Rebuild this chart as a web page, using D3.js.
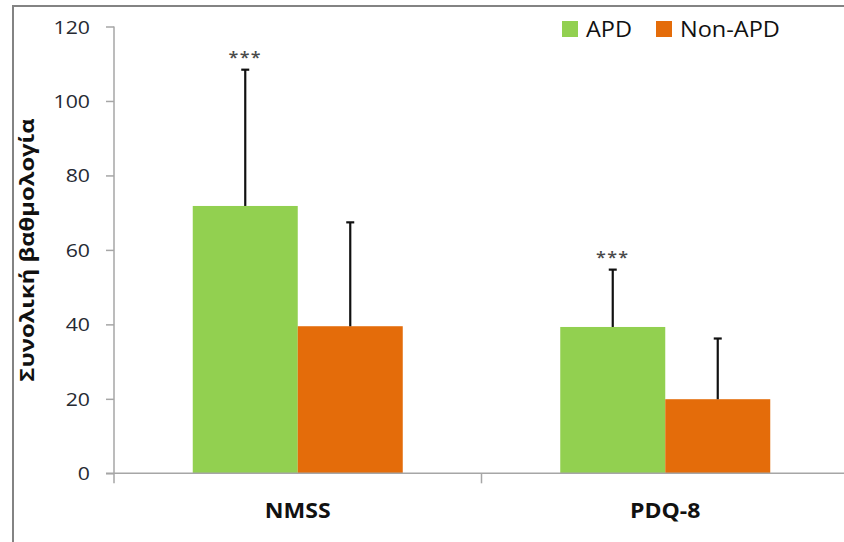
<!DOCTYPE html>
<html>
<head>
<meta charset="utf-8">
<script src="https://cdn.jsdelivr.net/npm/d3@7/dist/d3.min.js"></script>
<style>
  html, body { margin: 0; padding: 0; background: #fff; }
  svg { display: block; }
</style>
</head>
<body>
<svg id="chart" width="844" height="542"></svg>
<script>
// ---- data ----
const categories = ["NMSS", "PDQ-8"];
const seriesNames = ["APD", "Non-APD"];
const apdMeans = [71.8, 39.3];
const apdSD = [36.6, 15.4];
const nonApdMeans = [39.5, 19.9];
const nonApdSD = [27.9, 16.3];
const significance = ["***", "***"];
const yTicks = [0, 20, 40, 60, 80, 100, 120];
const yTitle = "Συνολική βαθμολογία";

const colors = { "APD": "#92D050", "Non-APD": "#E46C0A" };
const SX = 1.12; // horizontal stretch of the text in the reference

const rows = categories.map((c, i) => ({
  cat: c,
  sig: significance[i],
  vals: [
    { s: "APD", v: apdMeans[i], sd: apdSD[i] },
    { s: "Non-APD", v: nonApdMeans[i], sd: nonApdSD[i] }
  ]
}));

const svg = d3.select("#chart");
const font = "'Open Sans', sans-serif";

// frame (left and top border of the picture)
svg.append("line").attr("x1", 13).attr("x2", 13).attr("y1", 6).attr("y2", 542)
  .attr("stroke", "#838383").attr("stroke-width", 2);
svg.append("line").attr("x1", 12).attr("x2", 844).attr("y1", 6).attr("y2", 6)
  .attr("stroke", "#838383").attr("stroke-width", 2);

const plotLeft = 114, plotRight = 849, plotTop = 26.5, plotBottom = 473.3;

const y = d3.scaleLinear().domain([0, 120]).range([plotBottom, plotTop]);
const x0 = d3.scaleBand().domain(categories).range([plotLeft, plotRight]).padding(0);
const x1 = d3.scaleBand().domain(seriesNames).range([0, x0.bandwidth()])
  .paddingInner(0).paddingOuter(0.75);

// bars
const groups = svg.append("g").selectAll("g").data(rows).join("g")
  .attr("transform", d => `translate(${x0(d.cat)},0)`);

groups.selectAll("rect").data(d => d.vals).join("rect")
  .attr("x", d => x1(d.s))
  .attr("width", x1.bandwidth())
  .attr("y", d => y(d.v))
  .attr("height", d => y(0) - y(d.v))
  .attr("fill", d => colors[d.s]);

// error bars (upper only)
groups.each(function(d) {
  const g = d3.select(this);
  d.vals.forEach(v => {
    const cx = x1(v.s) + x1.bandwidth() / 2;
    g.append("line").attr("x1", cx).attr("x2", cx)
      .attr("y1", y(v.v)).attr("y2", y(v.v + v.sd))
      .attr("stroke", "#111").attr("stroke-width", 2.2);
    g.append("line").attr("x1", cx - 4).attr("x2", cx + 4)
      .attr("y1", y(v.v + v.sd)).attr("y2", y(v.v + v.sd))
      .attr("stroke", "#111").attr("stroke-width", 2.2);
  });
  const a = d.vals[0];
  const cx = x1(a.s) + x1.bandwidth() / 2;
  g.append("text")
    .attr("transform", `translate(${cx},${y(a.v + a.sd) - 7}) scale(${SX},1)`)
    .attr("text-anchor", "middle")
    .attr("font-family", font)
    .attr("font-size", 16)
    .attr("font-weight", 600)
    .attr("letter-spacing", 1.2)
    .attr("fill", "#4a4a4a")
    .text(d.sig);
});

// y axis
const yAxis = svg.append("g")
  .attr("transform", `translate(${plotLeft},0)`)
  .call(d3.axisLeft(y).tickValues(yTicks).tickSizeInner(8).tickSizeOuter(0).tickFormat(d3.format("d")));
yAxis.select(".domain").remove();
yAxis.selectAll(".tick line").attr("stroke", "#a6a6a6").attr("stroke-width", 1.5);
yAxis.selectAll(".tick text")
  .attr("x", null).attr("dy", null)
  .attr("transform", `translate(-24,6.5) scale(${SX},1)`)
  .attr("font-family", font).attr("font-size", 19).attr("fill", "#262a33");

// y axis line (extends below the x axis)
svg.append("line").attr("x1", plotLeft).attr("x2", plotLeft).attr("y1", y(120)).attr("y2", plotBottom + 10)
  .attr("stroke", "#a6a6a6").attr("stroke-width", 1.5);

// x axis
const xAxis = svg.append("g").attr("transform", `translate(0,${plotBottom})`);
xAxis.append("line").attr("x1", plotLeft - 8).attr("x2", 844).attr("y1", 0).attr("y2", 0)
  .attr("stroke", "#a6a6a6").attr("stroke-width", 1.5);
xAxis.selectAll("line.sep").data(categories.slice(1)).join("line").attr("class", "sep")
  .attr("x1", d => x0(d)).attr("x2", d => x0(d)).attr("y1", 0).attr("y2", 10)
  .attr("stroke", "#a6a6a6").attr("stroke-width", 1.5);
xAxis.selectAll("text").data(categories).join("text")
  .attr("transform", d => `translate(${x0(d) + x0.bandwidth() / 2},45) scale(${SX * 0.98},1)`)
  .attr("text-anchor", "middle")
  .attr("font-family", font).attr("font-weight", 700).attr("font-size", 21)
  .attr("fill", "#111")
  .text(d => d);

// y title
svg.append("text")
  .attr("transform", "translate(34,250) rotate(-90) scale(1.19,1)")
  .attr("text-anchor", "middle")
  .attr("font-family", font).attr("font-weight", 700).attr("font-size", 20)
  .attr("fill", "#111")
  .text(yTitle);

// legend
const legendX = [562, 656];
const legend = svg.append("g").selectAll("g").data(seriesNames).join("g")
  .attr("transform", (d, i) => `translate(${legendX[i]},21)`);
legend.append("rect").attr("width", 16).attr("height", 16).attr("fill", d => colors[d]);
legend.append("text")
  .attr("transform", `translate(24,15.7) scale(${SX},1)`)
  .attr("font-family", font).attr("font-size", 21).attr("fill", "#111")
  .text(d => d);
</script>
</body>
</html>
